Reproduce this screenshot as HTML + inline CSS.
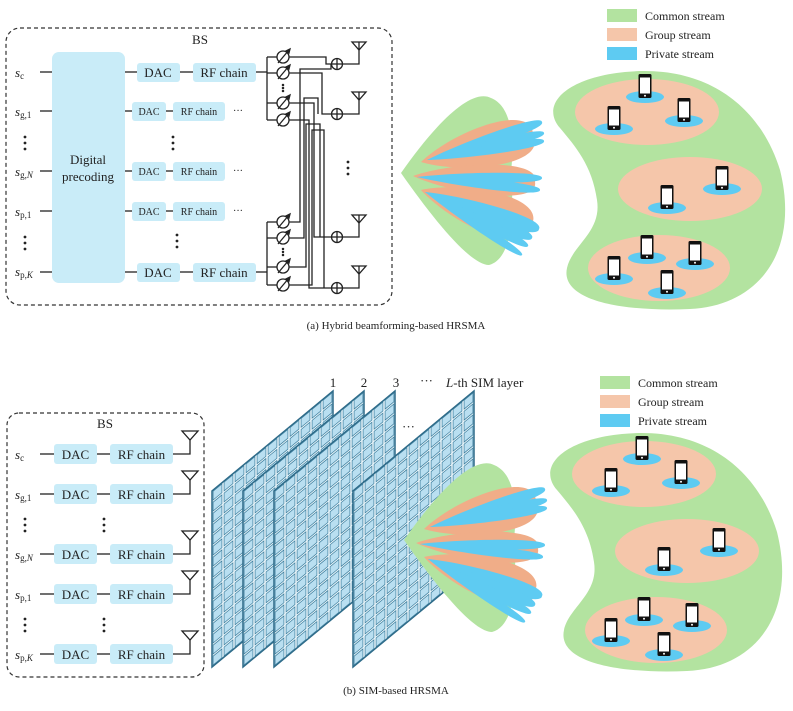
<!DOCTYPE html>
<html><head><meta charset="utf-8"><style>
html,body{margin:0;padding:0;background:#fff}
svg{display:block}
text{font-family:"Liberation Serif",serif;fill:#222}
</style></head><body>
<svg id="s" width="793" height="711" viewBox="0 0 793 711" xmlns="http://www.w3.org/2000/svg">
<rect x="6" y="28" width="386" height="277" rx="14" fill="none" stroke="#333" stroke-width="1.2" stroke-dasharray="4,3"/>
<text x="200" y="44" font-size="13" text-anchor="middle">BS</text>
<rect x="52" y="52" width="73" height="231" rx="7" fill="#c9ecf8"/>
<text x="88" y="164" font-size="13" text-anchor="middle">Digital</text>
<text x="88" y="181" font-size="13" text-anchor="middle">precoding</text>
<g font-size="13" font-style="italic">
<text x="15" y="77">s<tspan font-size="9" font-style="normal" dy="2">c</tspan></text>
<text x="15" y="116">s<tspan font-size="9" font-style="normal" dy="2">g,1</tspan></text>
<text x="15" y="176">s<tspan font-size="9" font-style="normal" dy="2">g,</tspan><tspan font-size="9">N</tspan></text>
<text x="15" y="216">s<tspan font-size="9" font-style="normal" dy="2">p,1</tspan></text>
<text x="15" y="276">s<tspan font-size="9" font-style="normal" dy="2">p,</tspan><tspan font-size="9">K</tspan></text>
</g>
<g stroke="#222" stroke-width="1.3">
<line x1="40" y1="72" x2="52" y2="72"/><line x1="40" y1="111" x2="52" y2="111"/><line x1="40" y1="171" x2="52" y2="171"/><line x1="40" y1="211" x2="52" y2="211"/><line x1="40" y1="272" x2="52" y2="272"/>
<line x1="125" y1="72" x2="137" y2="72"/><line x1="180" y1="72" x2="193" y2="72"/>
<line x1="125" y1="272" x2="137" y2="272"/><line x1="180" y1="272" x2="193" y2="272"/>
<line x1="125" y1="111" x2="132" y2="111"/><line x1="166" y1="111" x2="173" y2="111"/>
<line x1="125" y1="171" x2="132" y2="171"/><line x1="166" y1="171" x2="173" y2="171"/>
<line x1="125" y1="211" x2="132" y2="211"/><line x1="166" y1="211" x2="173" y2="211"/>
</g>
<g fill="#c9ecf8">
<rect x="137" y="63" width="43" height="19" rx="3"/><rect x="193" y="63" width="63" height="19" rx="3"/>
<rect x="137" y="263" width="43" height="19" rx="3"/><rect x="193" y="263" width="63" height="19" rx="3"/>
<rect x="132" y="102" width="34" height="19" rx="3"/><rect x="173" y="102" width="52" height="19" rx="3"/>
<rect x="132" y="162" width="34" height="19" rx="3"/><rect x="173" y="162" width="52" height="19" rx="3"/>
<rect x="132" y="202" width="34" height="19" rx="3"/><rect x="173" y="202" width="52" height="19" rx="3"/>
</g>
<g font-size="13" text-anchor="middle">
<text x="158" y="77">DAC</text><text x="224" y="77">RF chain</text>
<text x="158" y="277">DAC</text><text x="224" y="277">RF chain</text>
</g>
<g font-size="10" text-anchor="middle">
<text x="149" y="115">DAC</text><text x="199" y="115">RF chain</text>
<text x="149" y="175">DAC</text><text x="199" y="175">RF chain</text>
<text x="149" y="215">DAC</text><text x="199" y="215">RF chain</text>
</g>
<g font-size="10"><text x="233" y="114">···</text><text x="233" y="174">···</text><text x="233" y="214">···</text></g>
<g id="dotsA" fill="#222"></g>
<g id="wires" stroke="#222" stroke-width="1.3" fill="none"></g>
<text x="396" y="329" font-size="11" text-anchor="middle">(a) Hybrid beamforming-based HRSMA</text>
<g id="beamA"></g>
<g id="usersA"></g>
<rect x="607" y="9" width="30" height="13" fill="#b3e3a0"/><text x="645" y="20" font-size="12">Common stream</text>
<rect x="607" y="28" width="30" height="13" fill="#f5c6aa"/><text x="645" y="39" font-size="12">Group stream</text>
<rect x="607" y="47" width="30" height="13" fill="#5ecbf2"/><text x="645" y="58" font-size="12">Private stream</text>

<rect x="7" y="413" width="197" height="264" rx="12" fill="none" stroke="#333" stroke-width="1.2" stroke-dasharray="4,3"/>
<text x="105" y="428" font-size="13" text-anchor="middle">BS</text>
<g font-size="13" font-style="italic">
<text x="15" y="459">s<tspan font-size="9" font-style="normal" dy="2">c</tspan></text>
<text x="15" y="499">s<tspan font-size="9" font-style="normal" dy="2">g,1</tspan></text>
<text x="15" y="559">s<tspan font-size="9" font-style="normal" dy="2">g,</tspan><tspan font-size="9">N</tspan></text>
<text x="15" y="599">s<tspan font-size="9" font-style="normal" dy="2">p,1</tspan></text>
<text x="15" y="659">s<tspan font-size="9" font-style="normal" dy="2">p,</tspan><tspan font-size="9">K</tspan></text>
</g>
<g id="rowsB"></g>
<g id="sim"></g>
<g font-size="13"><text x="333" y="387" text-anchor="middle">1</text><text x="364" y="387" text-anchor="middle">2</text><text x="396" y="387" text-anchor="middle">3</text>
<text x="420" y="385">···</text><text x="446" y="387"><tspan font-style="italic">L</tspan>-th SIM layer</text>
<text x="402" y="431">···</text></g>
<g id="beamB"></g>
<g id="usersB"></g>
<rect x="600" y="376" width="30" height="13" fill="#b3e3a0"/><text x="638" y="387" font-size="12">Common stream</text>
<rect x="600" y="395" width="30" height="13" fill="#f5c6aa"/><text x="638" y="406" font-size="12">Group stream</text>
<rect x="600" y="414" width="30" height="13" fill="#5ecbf2"/><text x="638" y="425" font-size="12">Private stream</text>
<text x="396" y="694" font-size="11" text-anchor="middle">(b) SIM-based HRSMA</text>
</svg>
<script>
const NS="http://www.w3.org/2000/svg";
function el(p,t,a){const e=document.createElementNS(NS,t);for(const k in a)e.setAttribute(k,a[k]);p.appendChild(e);return e;}
const $=id=>document.getElementById(id);
function vdots(g,x,y){for(let i=-1;i<=1;i++)el(g,'circle',{cx:x,cy:y+i*6,r:1.4,fill:'#222'});}
const dA=$('dotsA');vdots(dA,25,143);vdots(dA,25,243);vdots(dA,173,143);vdots(dA,177,241);vdots(dA,348,168);
const w=$('wires');
function L(pts){el(w,'polyline',{points:pts.map(p=>p.join(',')).join(' ')});}
L([[256,72],[267,72]]);L([[256,272],[267,272]]);
L([[267,57],[267,120]]);L([[267,222],[267,285]]);
const ST=[57,73,103,120],SB=[222,238,267,285],AD=[64,114,237,288];
[...ST,...SB].forEach(y=>{L([[267,y],[277,y]]);});
L([[289,57],[326,57],[326,64],[331,64]]);
L([[289,73],[322,73],[322,114],[331,114]]);
L([[289,103],[314,103],[314,237],[331,237]]);
L([[289,120],[309,120],[309,288],[331,288]]);
L([[289,222],[300,222],[300,69],[331,69],[331,64]]);
L([[289,238],[304,238],[304,98],[318,98],[318,114]]);
L([[289,267],[306,267],[306,124],[320,124],[320,237]]);
L([[289,285],[312,285],[312,130],[324,130],[324,288]]);
AD.forEach(y=>{el(w,'circle',{cx:337,cy:y,r:5.5,fill:'#fff'});L([[331.5,y],[342.5,y]]);L([[337,y-5.5],[337,y+5.5]]);
 L([[342.5,y],[359,y],[359,y-14]]);el(w,'polygon',{points:`352,${y-22} 366,${y-22} 359,${y-14}`});L([[359,y-22],[359,y-14]]);});
[...ST,...SB].forEach(y=>{el(w,'circle',{cx:283,cy:y,r:6,fill:'#fff'});L([[278,y+6],[289,y-7]]);
 el(w,'polygon',{points:`${290},${y-8} ${286},${y-6} ${289},${y-4}`,fill:'#222'});});
[88,252].forEach(y=>{for(let i=-1;i<=1;i++)el(w,'circle',{cx:283,cy:y+i*3,r:0.6,fill:'#222'});});
function leaf(g,sx,sy,tx,ty,wd,col){const dx=tx-sx,dy=ty-sy,l=Math.hypot(dx,dy),ux=dx/l,uy=dy/l,nx=-uy*wd,ny=ux*wd;
 const a1=[sx+dx*0.35+nx*0.9,sy+dy*0.35+ny*0.9],a2=[tx+ux*wd*0.3+nx*1.25,ty+uy*wd*0.3+ny*1.25];
 const b2=[sx+dx*0.35-nx*0.9,sy+dy*0.35-ny*0.9],b1=[tx+ux*wd*0.3-nx*1.25,ty+uy*wd*0.3-ny*1.25];
 el(g,'path',{d:`M${sx},${sy} C${a1} ${a2} ${tx},${ty} C${b1} ${b2} ${sx},${sy}Z`,fill:col});}
function beam(g,ox,oy){
 el(g,'path',{d:`M${ox},${oy} C${ox+35},${oy-50} ${ox+70},${oy-85} ${ox+90},${oy-75} C${ox+115},${oy-65} ${ox+112},${oy-20} ${ox+110},${oy} C${ox+112},${oy+25} ${ox+115},${oy+85} ${ox+88},${oy+92} C${ox+70},${oy+92} ${ox+35},${oy+50} ${ox},${oy}Z`,fill:'#b3e3a0'});
 const P='#f0ad88',B='#5ecbf2';
 leaf(g,ox+20,oy-11,ox+132,oy-38,26,P);
 leaf(g,ox+12,oy+3,ox+134,oy+9,19,P);
 leaf(g,ox+20,oy+17,ox+130,oy+53,26,P);
 leaf(g,ox+26,oy-13,ox+141,oy-51,7,B);leaf(g,ox+26,oy-13,ox+143,oy-40,6,B);leaf(g,ox+26,oy-13,ox+143,oy-32,6,B);
 leaf(g,ox+16,oy+4,ox+141,oy+5,6,B);leaf(g,ox+16,oy+4,ox+139,oy+17,6,B);
 leaf(g,ox+24,oy+19,ox+138,oy+56,10,B);leaf(g,ox+24,oy+19,ox+131,oy+65,8,B);leaf(g,ox+24,oy+19,ox+127,oy+73,6,B);leaf(g,ox+24,oy+19,ox+121,oy+82,5,B);
}
beam($('beamA'),401,173);beam($('beamB'),404,540);
function users(g,dx,dy){const t=el(g,'g',{transform:`translate(${dx},${dy})`});
 el(t,'path',{d:'M560,128 C540,105 565,78 625,72 C705,64 760,105 780,170 C800,250 760,306 690,309 C620,312 560,300 567,268 C572,245 602,232 597,200 C592,165 575,146 560,128Z',fill:'#b3e3a0'});
 el(t,'ellipse',{cx:647,cy:112,rx:72,ry:33,fill:'#f5c6aa'});
 el(t,'ellipse',{cx:690,cy:189,rx:72,ry:32,fill:'#f5c6aa'});
 el(t,'ellipse',{cx:659,cy:268,rx:71,ry:33,fill:'#f5c6aa'});
 [[645,86],[614,118],[684,110],[722,178],[667,197],[647,247],[695,253],[614,268],[667,282]].forEach(([x,y])=>{
  el(t,'ellipse',{cx:x,cy:y+11,rx:19,ry:6,fill:'#5ecbf2'});
  el(t,'rect',{x:x-6.5,y:y-12,width:13,height:24,rx:1.5,fill:'#111'});
  el(t,'rect',{x:x-5,y:y-8.5,width:10,height:16,fill:'#fff'});
  el(t,'circle',{cx:x,cy:y+9.8,r:1,fill:'#fff'});});
}
users($('usersA'),0,0);users($('usersB'),-3,362);
const rb=$('rowsB');
[454,494,554,594,654].forEach(y=>{
 el(rb,'line',{x1:40,y1:y,x2:54,y2:y,stroke:'#222','stroke-width':1.3});
 el(rb,'line',{x1:97,y1:y,x2:110,y2:y,stroke:'#222','stroke-width':1.3});
 el(rb,'polyline',{points:`173,${y} 190,${y} 190,${y-15}`,fill:'none',stroke:'#222','stroke-width':1.3});
 el(rb,'polygon',{points:`182,${y-23} 198,${y-23} 190,${y-14}`,fill:'none',stroke:'#222','stroke-width':1.3});
 el(rb,'rect',{x:54,y:y-10,width:43,height:20,rx:3,fill:'#c9ecf8'});
 el(rb,'rect',{x:110,y:y-10,width:63,height:20,rx:3,fill:'#c9ecf8'});
 const t1=el(rb,'text',{x:75.5,y:y+5,'font-size':13,'text-anchor':'middle'});t1.textContent='DAC';
 const t2=el(rb,'text',{x:141.5,y:y+5,'font-size':13,'text-anchor':'middle'});t2.textContent='RF chain';
});
vdots(rb,25,525);vdots(rb,104,525);vdots(rb,25,625);vdots(rb,104,625);
const sim=$('sim');
[212,243,274,353].forEach(x0=>{
 const W=121,D=100,H=176,y0=491,cols=11,rows=16;
 const g=el(sim,'g',{});
 el(g,'polygon',{points:`${x0},${y0} ${x0+W},${y0-D} ${x0+W},${y0-D+H} ${x0},${y0+H}`,fill:'#eaf6fb',stroke:'#2d6a88','stroke-width':1.5});
 for(let i=0;i<cols;i++)for(let j=0;j<rows;j++){
  const u0=(i+0.1)/cols,u1=(i+0.9)/cols,v0=(j+0.1)/rows,v1=(j+0.9)/rows;
  const P=(u,v)=>[x0+u*W,y0-u*D+v*H];
  const a=P(u0,v0),b=P(u1,v0),c=P(u1,v1),d=P(u0,v1);
  el(g,'polygon',{points:[a,b,c,d].map(p=>p.join(',')).join(' '),fill:'#b9dff1',stroke:'#3f7f9e','stroke-width':0.7});
 }
});
</script>
</body></html>
